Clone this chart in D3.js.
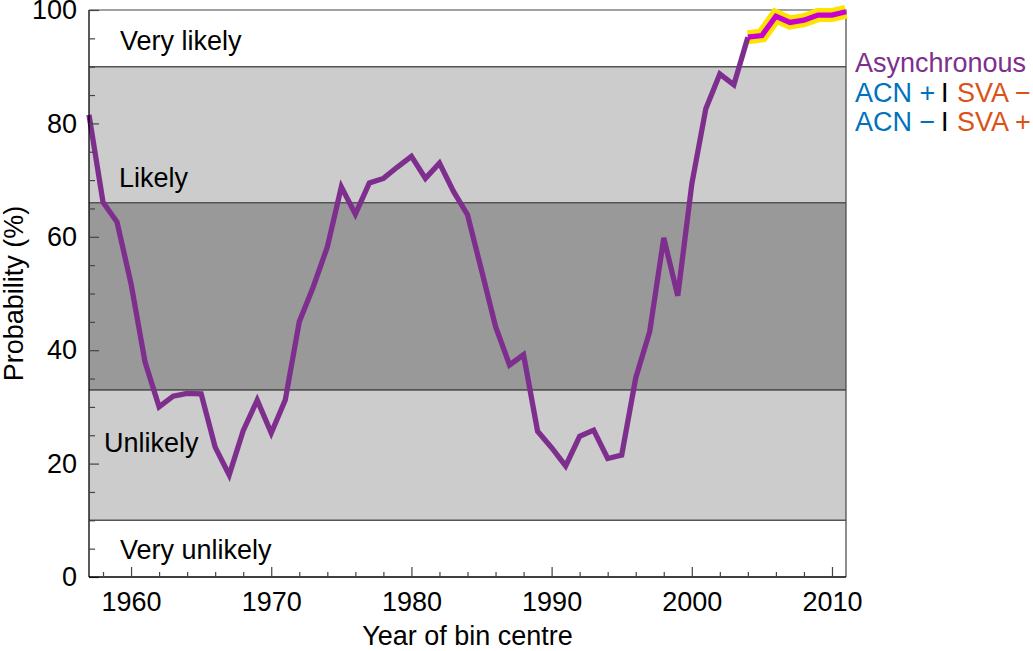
<!DOCTYPE html>
<html>
<head>
<meta charset="utf-8">
<script src="https://cdn.jsdelivr.net/npm/d3@7"></script>
<style>
  html, body { margin: 0; padding: 0; background: #fff; }
  svg { display: block; font-family: "Liberation Sans", Arial, Helvetica, sans-serif; }
</style>
</head>
<body>
<svg id="chart" width="1033" height="651"></svg>
<script>
// ---- data ----
const asyncYears = [1957,1958,1959,1960,1961,1962,1963,1964,1965,1966,1967,1968,1969,1970,
  1971,1972,1973,1974,1975,1976,1977,1978,1979,1980,1981,1982,1983,1984,1985,1986,1987,1988,
  1989,1990,1991,1992,1993,1994,1995,1996,1997,1998,1999,2000,2001,2002,2003,2004];
const asyncValues = [81.5,66.1,62.6,51.7,37.9,30.0,31.9,32.4,32.3,22.9,18.0,25.8,31.2,25.4,
  31.2,45.0,51.2,58.2,68.8,64.0,69.5,70.3,72.3,74.2,70.3,73.0,68.0,63.9,54.1,44.2,37.4,39.2,
  25.7,22.8,19.6,24.8,25.9,20.9,21.5,35.1,43.3,59.8,49.6,69.3,82.6,88.7,86.8,95.2];
const recentYears = [2004,2005,2006,2007,2008,2009,2010,2011];
const recentValues = [95.2,95.5,98.9,97.8,98.2,99.1,99.1,99.7];

const bandEdges = [0, 10, 33, 66, 90, 100];
const bandFills = ["#ffffff", "#cccccc", "#999999", "#cccccc", "#ffffff"];

const xMajorTicks = [1960, 1970, 1980, 1990, 2000, 2010];
const xMinorTicks = [1958,1962,1964,1966,1968,1972,1974,1976,1978,1982,1984,1986,1988,
  1992,1994,1996,1998,2002,2004,2006,2008];
const yMajorTicks = [0, 20, 40, 60, 80, 100];
const yMinorTicks = [5,10,15,25,30,35,45,50,55,65,70,75,85,90,95];

const xDomain = [1957, 2011];
const yDomain = [0, 100];

// ---- layout ----
const L = 89, R = 846, T = 10, B = 577;
const svg = d3.select("#chart");
const x = d3.scaleLinear().domain(xDomain).range([L, R]);
const y = d3.scaleLinear().domain(yDomain).range([B, T]);

const purple = "#7e2f8e", magenta = "#c800d2", yellow = "#ffe300",
      blue = "#0072bd", orange = "#d95319";
const fontSize = 27;

// bands
const bands = d3.range(bandFills.length).map(i => ({lo: bandEdges[i], hi: bandEdges[i+1], fill: bandFills[i]}));
svg.append("g").selectAll("rect").data(bands).join("rect")
  .attr("x", L).attr("width", R - L)
  .attr("y", d => y(d.hi)).attr("height", d => y(d.lo) - y(d.hi))
  .attr("fill", d => d.fill);

// band boundaries
svg.append("g").selectAll("line").data(bandEdges.slice(1, -1)).join("line")
  .attr("x1", L).attr("x2", R).attr("y1", d => y(d)).attr("y2", d => y(d))
  .attr("stroke", "#555").attr("stroke-width", 1.6);

// frame top/right
svg.append("path")
  .attr("d", `M${L},${y(100)}H${R}V${y(0)}`)
  .attr("fill", "none").attr("stroke", "#444").attr("stroke-width", 1.2);

// band labels
const labelPos = [
  {t: "Very unlikely", v: 4.9, dx: 120},
  {t: "Unlikely", v: 23.8, dx: 104},
  {t: "Likely", v: 70.5, dx: 119},
  {t: "Very likely", v: 94.6, dx: 120}
];
svg.append("g").selectAll("text").data(labelPos).join("text")
  .attr("x", d => d.dx).attr("y", d => y(d.v)).attr("dy", "0.36em")
  .attr("font-size", fontSize).attr("fill", "#000").text(d => d.t);

// lines
const line = d3.line().x(d => x(d[0])).y(d => y(d[1]));
const recent = recentYears.map((yr, i) => [yr, recentValues[i]]);
const asyncPts = asyncYears.map((yr, i) => [yr, asyncValues[i]]);

svg.append("path").datum(recent).attr("d", line)
  .attr("fill", "none").attr("stroke", yellow).attr("stroke-width", 14)
  .attr("stroke-linejoin", "miter").attr("stroke-linecap", "butt");
svg.append("path").datum(asyncPts).attr("d", line)
  .attr("fill", "none").attr("stroke", purple).attr("stroke-width", 5.3)
  .attr("stroke-linejoin", "miter").attr("stroke-miterlimit", 3);
svg.append("path").datum(recent).attr("d", line)
  .attr("fill", "none").attr("stroke", magenta).attr("stroke-width", 5.3)
  .attr("stroke-linejoin", "miter");

// axes
const yAxisMajor = d3.axisLeft(y).tickValues(yMajorTicks).tickSize(-10).tickPadding(12);
const yAxisMinor = d3.axisLeft(y).tickValues(yMinorTicks).tickSize(-6).tickFormat("");
const gy = svg.append("g").attr("transform", `translate(${L},0)`).call(yAxisMajor);
const gy2 = svg.append("g").attr("transform", `translate(${L},0)`).call(yAxisMinor);
const xAxisMajor = d3.axisBottom(x).tickValues(xMajorTicks).tickSize(-10).tickPadding(15).tickFormat(d3.format("d"));
const xAxisMinor = d3.axisBottom(x).tickValues(xMinorTicks).tickSize(-5).tickFormat("");
const gx = svg.append("g").attr("transform", `translate(0,${B})`).call(xAxisMajor);
const gx2 = svg.append("g").attr("transform", `translate(0,${B})`).call(xAxisMinor);

[gy, gy2, gx, gx2].forEach(g => {
  g.selectAll(".domain").attr("stroke", "#000").attr("stroke-width", 1.3);
  g.selectAll(".tick line").attr("stroke", "#444").attr("stroke-width", 1.2);
  g.selectAll("text").attr("font-size", fontSize).attr("fill", "#000")
    .attr("font-family", "'Liberation Sans', Arial, Helvetica, sans-serif");
});
gy.select(".domain").attr("d", `M0,${y(0)}V${y(100)}`);
gx.select(".domain").attr("d", `M${L},0H${R}`);
gy2.select(".domain").remove();
gx2.select(".domain").remove();

// axis titles
svg.append("text")
  .attr("x", (L + R) / 2).attr("y", 645)
  .attr("text-anchor", "middle").attr("font-size", fontSize).text("Year of bin centre");
svg.append("text")
  .attr("transform", `translate(23,${(T + B) / 2}) rotate(-90)`)
  .attr("text-anchor", "middle").attr("font-size", fontSize).text("Probability (%)");

// legend
svg.append("text").attr("x", 855).attr("y", 72).attr("font-size", fontSize)
  .attr("fill", purple).text("Asynchronous");
const legendRows = [
  {a: "ACN +", b: "SVA \u2212", yy: 101.5},
  {a: "ACN \u2212", b: "SVA +", yy: 130.5}
];
legendRows.forEach(r => {
  svg.append("text").attr("x", 855).attr("y", r.yy).attr("font-size", fontSize).attr("fill", blue).text(r.a);
  svg.append("text").attr("x", 941).attr("y", r.yy).attr("font-size", fontSize).attr("fill", "#000").text("I");
  svg.append("text").attr("x", 957).attr("y", r.yy).attr("font-size", fontSize).attr("fill", orange).text(r.b);
});
</script>
</body>
</html>
